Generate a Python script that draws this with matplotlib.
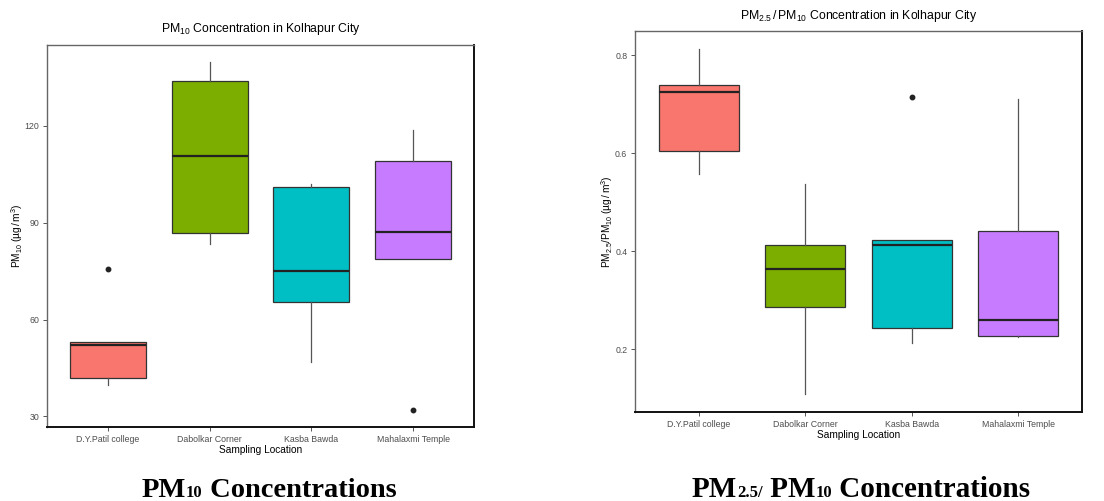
import matplotlib
matplotlib.use("Agg")
import matplotlib.pyplot as plt

plt.rcParams['font.family'] = ['Liberation Sans', 'DejaVu Sans']
plt.rcParams['mathtext.fontset'] = 'custom'
plt.rcParams['mathtext.rm'] = 'Liberation Sans'
plt.rcParams['mathtext.it'] = 'Liberation Sans:italic'
plt.rcParams['mathtext.bf'] = 'Liberation Sans:bold'

locations = ["D.Y.Patil college", "Dabolkar Corner", "Kasba Bawda", "Mahalaxmi Temple"]
box_colors = ["#F8766D", "#7CAE00", "#00BFC4", "#C77CFF"]

# PM10 summary statistics per location (µg/m3)
pm10_whislo = [39.6, 83.4, 46.9, 78.7]
pm10_q1 = [42.0, 86.7, 65.3, 78.7]
pm10_med = [52.2, 110.6, 75.2, 87.0]
pm10_q3 = [53.2, 134.0, 101.1, 109.3]
pm10_whishi = [53.2, 139.9, 101.9, 118.7]
pm10_outliers = [[75.6], [], [], [32.1]]
pm10_ticks = [30, 60, 90, 120]

# PM2.5 / PM10 ratio summary statistics per location
ratio_whislo = [0.557, 0.109, 0.212, 0.226]
ratio_q1 = [0.605, 0.286, 0.244, 0.228]
ratio_med = [0.725, 0.365, 0.413, 0.260]
ratio_q3 = [0.740, 0.414, 0.423, 0.441]
ratio_whishi = [0.814, 0.537, 0.423, 0.711]
ratio_outliers = [[], [], [0.716], []]
ratio_ticks = [0.2, 0.4, 0.6, 0.8]

W, H = 1104, 501
fig = plt.figure(figsize=(W / 100, H / 100), dpi=100)
fig.patch.set_facecolor("white")


def px_axes(left, top, right, bottom):
    return fig.add_axes([left / W, 1 - bottom / H, (right - left) / W, (bottom - top) / H])


def boxplot_panel(ax, whislo, q1, med, q3, whishi, outliers, ticks, ylim):
    stats = []
    for i, loc in enumerate(locations):
        stats.append(dict(label=loc, whislo=whislo[i], q1=q1[i], med=med[i],
                          q3=q3[i], whishi=whishi[i], fliers=outliers[i]))
    bp = ax.bxp(stats, positions=range(1, len(locations) + 1), widths=0.75,
                patch_artist=True, showcaps=False,
                boxprops=dict(edgecolor="#333333", linewidth=0.9),
                medianprops=dict(color="#222222", linewidth=1.6),
                whiskerprops=dict(color="#555555", linewidth=0.9),
                flierprops=dict(marker="o", markersize=3.2, markerfacecolor="#222222",
                                markeredgecolor="#222222"))
    for patch, c in zip(bp["boxes"], box_colors):
        patch.set_facecolor(c)
    ax.set_xlim(0.4, 4.6)
    ax.set_ylim(*ylim)
    ax.set_yticks(ticks)
    ax.set_yticklabels([f"{t:g}" for t in ticks])
    ax.tick_params(axis="both", labelsize=6.3, labelcolor="#4D4D4D", color="#555555",
                   length=3, width=0.7, pad=2.5)
    ax.set_xlabel("Sampling Location", fontsize=7.3, labelpad=1)
    for side in ["top", "left"]:
        ax.spines[side].set_color("#666666")
        ax.spines[side].set_linewidth(1.0)
    for side in ["right", "bottom"]:
        ax.spines[side].set_color("#111111")
        ax.spines[side].set_linewidth(1.4)
    ax.set_facecolor("white")


ax1 = px_axes(47, 45, 474, 427)
boxplot_panel(ax1, pm10_whislo, pm10_q1, pm10_med, pm10_q3, pm10_whishi,
              pm10_outliers, pm10_ticks, (26.7, 145.1))
ax1.set_title(r"PM$_{10}$ Concentration in Kolhapur City", fontsize=8.8, pad=9)
ax1.set_ylabel(r"PM$_{10}$ (µg$\,/\,$m$^3$)", fontsize=7.3, labelpad=0)

ax2 = px_axes(635, 31, 1082, 412)
boxplot_panel(ax2, ratio_whislo, ratio_q1, ratio_med, ratio_q3, ratio_whishi,
              ratio_outliers, ratio_ticks, (0.072, 0.850))
ax2.set_title(r"PM$_{2.5}$$\,/\,$PM$_{10}$ Concentration in Kolhapur City", fontsize=8.8, pad=9)
ax2.set_ylabel(r"PM$_{2.5}$/PM$_{10}$ (µg$\,/\,$m$^3$)", fontsize=7.3, labelpad=0)


def caption(pieces, xc_px, baseline_px):
    """Draw bold serif text pieces side by side on a shared baseline."""
    renderer = fig.canvas.get_renderer()
    items = []
    for s, size in pieces:
        t = fig.text(0, 1 - baseline_px / H, s, fontsize=size, family="Liberation Serif",
                     weight="bold", ha="left", va="baseline")
        items.append((t, t.get_window_extent(renderer).width))
    total = sum(w for _, w in items)
    x = xc_px - total / 2
    for t, w in items:
        t.set_x(x / W)
        x += w


caption([("PM", 20.5), ("10", 12), (" Concentrations", 20.5)], 269, 497)
caption([("PM", 21), ("2.5/", 12), (" PM", 21), ("10", 12), (" Concentrations", 21)], 861, 497)

fig.savefig("out.png", dpi=100, facecolor="white")
